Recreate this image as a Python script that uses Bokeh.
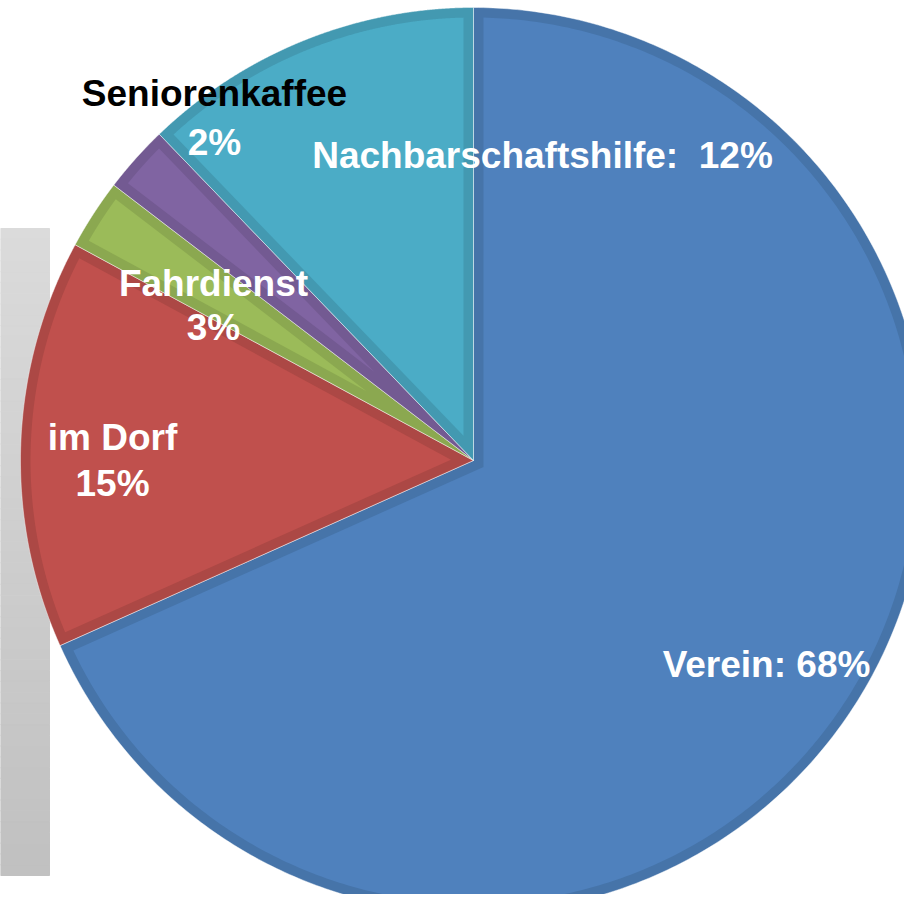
import numpy as np
from bokeh.plotting import figure
from bokeh.models import Range1d, ColumnDataSource
from bokeh.core.properties import value
from bokeh.embed import file_html
from bokeh.resources import INLINE

# ---- data ----
categories = ["Verein", "im Dorf", "Fahrdienst", "Seniorenkaffee", "Nachbarschaftshilfe"]
shares = [68.3, 14.6, 2.5, 2.4, 12.2]          # slice sizes (%)
pct_labels = ["68%", "15%", "3%", "2%", "12%"]

# ---- style ----
fill_colors = ["#4F81BD", "#C0504D", "#9BBB59", "#8064A2", "#4BACC6"]
edge_colors = ["#4674A9", "#AC4845", "#8BA850", "#735A92", "#4399B1"]

W, H = 904, 894
p = figure(width=W, height=H, x_range=Range1d(0, W), y_range=Range1d(-H, 0),
           output_backend="svg", toolbar_location=None, x_axis_type=None, y_axis_type=None,
           min_border=0, outline_line_color=None)
p.grid.visible = False
p.background_fill_color = "white"
p.border_fill_color = "white"

# grey gradient panel at the left
n_bands = 60
top, bottom = -228, -875
edges = np.linspace(top, bottom, n_bands + 1)
shade = np.linspace(219, 193, n_bands).astype(int)
band_cols = ["#%02x%02x%02x" % (g, g, g) for g in shade]
p.quad(left=0, right=49, top=edges[:-1], bottom=edges[1:],
       fill_color=band_cols, line_color=band_cols, line_width=1)

# pie geometry
cx, cy, R, d = 473, -460, 453, 10
vals = np.array(shares, dtype=float)
frac = vals / vals.sum()
ends = np.cumsum(frac)
starts = ends - frac

def ang(f):
    return np.pi / 2 - 2 * np.pi * f

outer_xs, outer_ys, inner_xs, inner_ys = [], [], [], []
for s, e in zip(starts, ends):
    a0, a1 = ang(s), ang(e)
    t = np.linspace(a0, a1, 400)
    outer_xs.append(np.concatenate([[cx], cx + R * np.cos(t)]))
    outer_ys.append(np.concatenate([[cy], cy + R * np.sin(t)]))
    h = np.pi * (e - s)
    phi = ang((s + e) / 2)
    off = d / np.sin(h)
    ax, ay = cx + off * np.cos(phi), cy + off * np.sin(phi)
    delta = np.arcsin(d / (R - d))
    ti = np.linspace(a0 - delta, a1 + delta, 400)
    inner_xs.append(np.concatenate([[ax], cx + (R - d) * np.cos(ti)]))
    inner_ys.append(np.concatenate([[ay], cy + (R - d) * np.sin(ti)]))

p.patches(outer_xs, outer_ys, fill_color=edge_colors, line_color="white",
          line_alpha=0.45, line_width=1)
p.patches(inner_xs, inner_ys, fill_color=fill_colors, line_color=None)

# labels
lab_text = ["Seniorenkaffee", pct_labels[3],
            categories[4] + ":\u00a0 " + pct_labels[4],
            categories[2], pct_labels[2],
            categories[1], pct_labels[1],
            categories[0] + ": " + pct_labels[0]]
lab_x = [214, 214, 542, 213, 213, 112, 112, 766]
lab_y = [-93, -142, -155, -283, -327, -437, -483, -664]
lab_c = ["black", "white", "white", "white", "white", "white", "white", "white"]
src = ColumnDataSource(dict(x=lab_x, y=lab_y, text=lab_text, c=lab_c))
p.text(x="x", y="y", text="text", source=src, text_color="c",
       text_font=value("Liberation Sans"), text_font_style="bold",
       text_font_size="37px", text_align="center", text_baseline="alphabetic")

open("out.html", "w").write(file_html(p, INLINE))
